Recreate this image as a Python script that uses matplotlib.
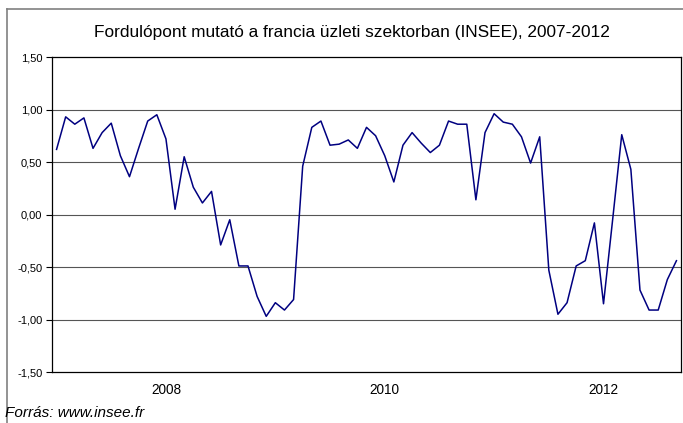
import numpy as np
import matplotlib
matplotlib.use("Agg")
import matplotlib.pyplot as plt
from matplotlib.lines import Line2D

plt.rcParams['font.family'] = ['Liberation Sans', 'DejaVu Sans']

title = "Fordulópont mutató a francia üzleti szektorban (INSEE), 2007-2012"
source = "Forrás: www.insee.fr"

# monthly values, Jan 2007 - Sep 2012
start_year = 2007
values = [0.62, 0.93, 0.86, 0.92, 0.63, 0.78, 0.87, 0.56, 0.36, 0.63, 0.89, 0.95,
          0.72, 0.05, 0.55, 0.26, 0.11, 0.22, -0.29, -0.05, -0.49, -0.49, -0.78, -0.97,
          -0.84, -0.91, -0.81, 0.46, 0.83, 0.89, 0.66, 0.67, 0.71, 0.63, 0.83, 0.75,
          0.56, 0.31, 0.66, 0.78, 0.68, 0.59, 0.66, 0.89, 0.86, 0.86, 0.14, 0.78,
          0.96, 0.88, 0.86, 0.74, 0.49, 0.74, -0.53, -0.95, -0.84, -0.49, -0.44, -0.08,
          -0.85, -0.05, 0.76, 0.43, -0.72, -0.91, -0.91, -0.62, -0.44]
year_labels = ["2008", "2010", "2012"]
y_ticks = [-1.5, -1.0, -0.5, 0.0, 0.5, 1.0, 1.5]

W, H = 683, 423
fig = plt.figure(figsize=(W / 100, H / 100), dpi=100)
ax = fig.add_axes([52 / W, 1 - 372 / H, (681 - 52) / W, (372 - 57) / H])

x = np.arange(len(values))
ax.plot(x, values, color='#000080', lw=1.1, zorder=3)

ax.set_xlim(-0.5, len(values) - 0.5)
ax.set_ylim(-1.5, 1.5)
ax.set_yticks(y_ticks)
ax.set_yticklabels([f"{v:.2f}".replace('.', ',') for v in y_ticks], fontsize=8)
for v in y_ticks[1:-1]:
    ax.axhline(v, color='#555555', lw=0.8, zorder=1)

xt = [(int(y) - start_year) * 12 for y in year_labels]
ax.set_xticks(xt)
ax.set_xticklabels(year_labels, fontsize=9.8)
ax.tick_params(axis='x', length=0, pad=8)
ax.tick_params(axis='y', length=4, width=0.8, pad=3, direction='out')
for s in ax.spines.values():
    s.set_linewidth(0.9)
    s.set_color('black')

fig.text(352 / W, 1 - 33 / H, title, ha='center', va='center', fontsize=12.4)
fig.text(5 / W, 1 - 413 / H, source, ha='left', va='center', fontsize=11, style='italic')

fig.add_artist(Line2D([7 / W, 1], [1 - 9 / H, 1 - 9 / H], transform=fig.transFigure,
                      color='#808080', lw=1.2))
fig.add_artist(Line2D([7 / W, 7 / W], [1 - 9 / H, 0], transform=fig.transFigure,
                      color='#808080', lw=1.2))

fig.savefig("out.png", dpi=100)
